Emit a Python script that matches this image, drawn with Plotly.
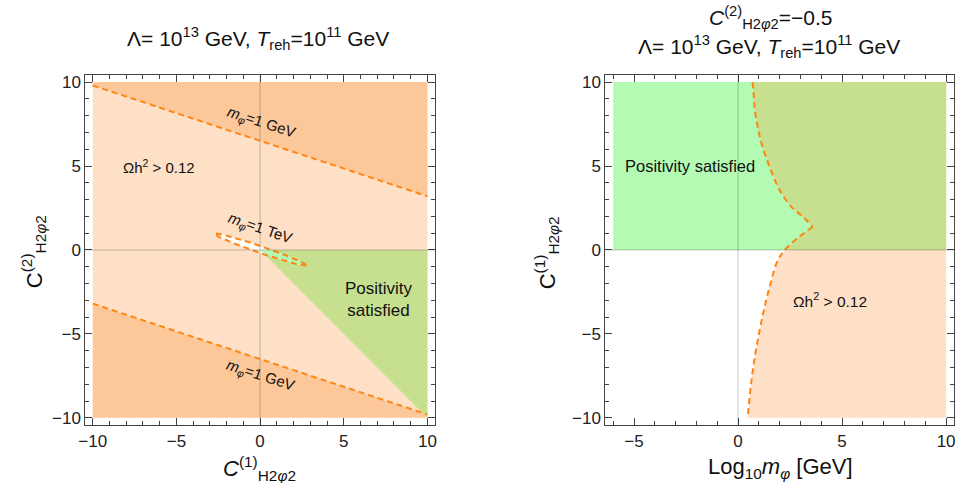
import numpy as np
import plotly.graph_objects as go

# ---------------- data ----------------
# left panel: C1 vs C2 plane
c_range = [-10, 10]
upper_line_c1 = [-10, 10]
upper_line_c2 = [9.8, 3.2]
lower_line_c1 = [-10, 10]
lower_line_c2 = [-3.2, -9.8]
positivity_c1 = [0, 10, 10]
positivity_c2 = [0, 0, -10]
tev_center = [0.0, 0.03]
tev_semi_axes = [2.9, 0.2]
tev_angle_deg = -19.0

# right panel: log10 m vs C1
logm_range = [-6, 10]
upper_branch_logm = [0.70, 0.76, 0.81, 0.95, 1.13, 1.52, 2.00, 2.56, 3.11, 3.59]
upper_branch_c1 = [10.0, 9.1, 8.3, 7.3, 6.33, 4.94, 3.56, 2.57, 1.98, 1.38]
lower_branch_logm = [3.59, 2.95, 2.32, 1.92, 1.52, 1.21, 0.89, 0.65, 0.46]
lower_branch_c1 = [1.38, 0.79, 0.10, -0.59, -2.18, -3.76, -5.74, -7.72, -10.0]

ticks_main = [-10, -5, 0, 5, 10]
ticks_logm = [-5, 0, 5, 10]

# ---------------- styles ----------------
PEACH = "#FEE0C6"
DARK = "#FDC899"
GREEN = "#B3FAB3"
OLIVE = "#C6E08F"
ORANGE = "#FF8514"
FONT = "Liberation Sans"
W, H = 959, 483


def clip_halfplane(xs, ys, a, b, c):
    """Keep the part of polygon where a*x + b*y + c >= 0."""
    out_x, out_y = [], []
    n = len(xs)
    for i in range(n):
        x1, y1 = xs[i], ys[i]
        x2, y2 = xs[(i + 1) % n], ys[(i + 1) % n]
        d1 = a * x1 + b * y1 + c
        d2 = a * x2 + b * y2 + c
        if d1 >= 0:
            out_x.append(x1); out_y.append(y1)
        if (d1 >= 0) != (d2 >= 0):
            t = d1 / (d1 - d2)
            out_x.append(x1 + t * (x2 - x1)); out_y.append(y1 + t * (y2 - y1))
    return out_x, out_y


fig = go.Figure()


def poly(xs, ys, color, xa="x", ya="y"):
    fig.add_trace(go.Scatter(x=list(xs) + [xs[0]], y=list(ys) + [ys[0]], fill="toself",
                             fillcolor=color, mode="lines", line=dict(width=0),
                             hoverinfo="skip", showlegend=False, xaxis=xa, yaxis=ya))


lo, hi = c_range
# ---- left panel ----
poly([lo, hi, hi, lo], [lo, lo, hi, hi], PEACH)
poly([upper_line_c1[0], upper_line_c1[1], hi, lo], [upper_line_c2[0], upper_line_c2[1], hi, hi], DARK)
poly([lower_line_c1[0], lower_line_c1[1], hi, lo], [lower_line_c2[0], lower_line_c2[1], lo, lo], DARK)
poly(positivity_c1, positivity_c2, OLIVE)

t = np.linspace(0, 2 * np.pi, 200)
ang = np.deg2rad(tev_angle_deg)
ex = tev_center[0] + tev_semi_axes[0] * np.cos(t) * np.cos(ang) - tev_semi_axes[1] * np.sin(t) * np.sin(ang)
ey = tev_center[1] + tev_semi_axes[0] * np.cos(t) * np.sin(ang) + tev_semi_axes[1] * np.sin(t) * np.cos(ang)
poly(ex, ey, "#FFFFFF")
gx, gy = clip_halfplane(list(ex), list(ey), 0, -1, 0)      # c2 <= 0
gx, gy = clip_halfplane(gx, gy, 1, 1, 0)                   # c1 + c2 >= 0
if gx:
    poly(gx, gy, GREEN)

dash = dict(color=ORANGE, width=2, dash="6px,4px")
for xs, ys in [(upper_line_c1, upper_line_c2), (lower_line_c1, lower_line_c2),
               (list(ex) + [ex[0]], list(ey) + [ey[0]])]:
    fig.add_trace(go.Scatter(x=xs, y=ys, mode="lines", line=dash, hoverinfo="skip",
                             showlegend=False, xaxis="x", yaxis="y"))

# ---- right panel ----
poly([logm_range[0], logm_range[1], logm_range[1], logm_range[0]], [0, 0, hi, hi], GREEN, "x2", "y2")
px_ = upper_branch_logm + lower_branch_logm[1:] + [logm_range[1], logm_range[1]]
py_ = upper_branch_c1 + lower_branch_c1[1:] + [lo, hi]
poly(px_, py_, PEACH, "x2", "y2")
ox, oy = clip_halfplane(px_, py_, 0, 1, 0)
poly(ox, oy, OLIVE, "x2", "y2")
for xs, ys in [(upper_branch_logm, upper_branch_c1), (lower_branch_logm, lower_branch_c1)]:
    fig.add_trace(go.Scatter(x=xs, y=ys, mode="lines", line=dict(dash, shape="spline"),
                             hoverinfo="skip", showlegend=False, xaxis="x2", yaxis="y2"))

# ---- axes ----
ydom = [1 - 427 / H, 1 - 74 / H]
axis_common = dict(showline=True, mirror="ticks", linecolor="#444", linewidth=1,
                   ticks="inside", ticklen=7, tickcolor="#444", showgrid=False, zeroline=False,
                   tickfont=dict(family=FONT, size=17, color="#222"),
                   minor=dict(ticks="inside", ticklen=4, dtick=1, tickcolor="#444", showgrid=False))
fig.update_layout(
    xaxis=dict(axis_common, domain=[79 / W, 432 / W], range=[-10.45, 10.45], tickvals=ticks_main,
               ticktext=[str(v).replace("-", "−") for v in ticks_main], anchor="y"),
    yaxis=dict(axis_common, domain=ydom, range=[-10.45, 10.45], tickvals=ticks_main,
               ticktext=[str(v).replace("-", "−") for v in ticks_main], anchor="x"),
    xaxis2=dict(axis_common, domain=[604 / W, 956 / W], range=[-6.38, 10.38], tickvals=ticks_logm,
                ticktext=[str(v).replace("-", "−") for v in ticks_logm], anchor="y2"),
    yaxis2=dict(axis_common, domain=ydom, range=[-10.45, 10.45], tickvals=ticks_main,
                ticktext=[str(v).replace("-", "−") for v in ticks_main], anchor="x2"),
    width=W, height=H, margin=dict(l=0, r=0, t=0, b=0),
    paper_bgcolor="white", plot_bgcolor="white", showlegend=False,
    font=dict(family=FONT, color="#111"),
)

# zero axes (gray)
shapes = []
for xr, yr, x0, x1 in [("x", "y", -10.45, 10.45), ("x2", "y2", -6.38, 10.38)]:
    shapes.append(dict(type="line", xref=xr, yref=yr, x0=x0, x1=x1, y0=0, y1=0,
                       line=dict(color="rgba(0,0,0,0.22)", width=1), layer="above"))
    shapes.append(dict(type="line", xref=xr, yref=yr, x0=0, x1=0, y0=-10.45, y1=10.45,
                       line=dict(color="rgba(0,0,0,0.22)", width=1), layer="above"))
fig.update_layout(shapes=shapes)

anns = []


def ann(text, x, y, xref="x", yref="y", size=15, angle=0):
    anns.append(dict(text=text, x=x, y=y, xref=xref, yref=yref, showarrow=False,
                     xanchor="center", yanchor="middle",
                     textangle=angle, font=dict(family=FONT, size=size, color="#111")))


# in-plot labels left
ann("<i>m</i><sub><i>φ</i></sub>=1 GeV", 0.06, 7.6, angle=18)
ann("<i>m</i><sub><i>φ</i></sub>=1 TeV", 0.0, 1.3, angle=19)
ann("<i>m</i><sub><i>φ</i></sub>=1 GeV", 0.0, -7.5, angle=18)
ann("Ωh<sup>2</sup> > 0.12", -6.07, 5.0, size=15)
ann("Positivity<br>satisfied", 7.1, -2.97, size=17)
# in-plot labels right
ann("Positivity satisfied", -2.33, 5.0, "x2", "y2", size=16.5)
ann("Ωh<sup>2</sup> > 0.12", 4.4, -3.0, "x2", "y2", size=15.5)

# titles
title_l = "Λ= 10<sup>13</sup> GeV, <i>T</i><sub>reh</sub>=10<sup>11</sup> GeV"
ann(title_l, 253 / W, 1 - 38 / H, "paper", "paper", size=21)
ann("<i>C</i><sup>(2)</sup><sub>H2<i>φ</i>2</sub>=−0.5", 771 / W, 1 - 17 / H, "paper", "paper", size=21)
ann(title_l, 769 / W, 1 - 46 / H, "paper", "paper", size=21)

# axis titles
ann("<i>C</i><sup>(1)</sup><sub>H2<i>φ</i>2</sub>", 255 / W, 1 - 470 / H, "paper", "paper", size=22)
ann("C<sup>(2)</sup><sub>H2<i>φ</i>2</sub>", 27 / W, 1 - 252 / H, "paper", "paper", size=22, angle=-90)
ann("C<sup>(1)</sup><sub>H2<i>φ</i>2</sub>", 545 / W, 1 - 253 / H, "paper", "paper", size=22, angle=-90)
ann("Log<sub>10</sub><i>m</i><sub><i>φ</i></sub> [GeV]", 781 / W, 1 - 470 / H, "paper", "paper", size=22)

fig.update_layout(annotations=anns)
fig.write_html("out.html", config={"displayModeBar": False},
               post_script="document.body.style.margin='0';document.body.style.overflow='hidden';")
